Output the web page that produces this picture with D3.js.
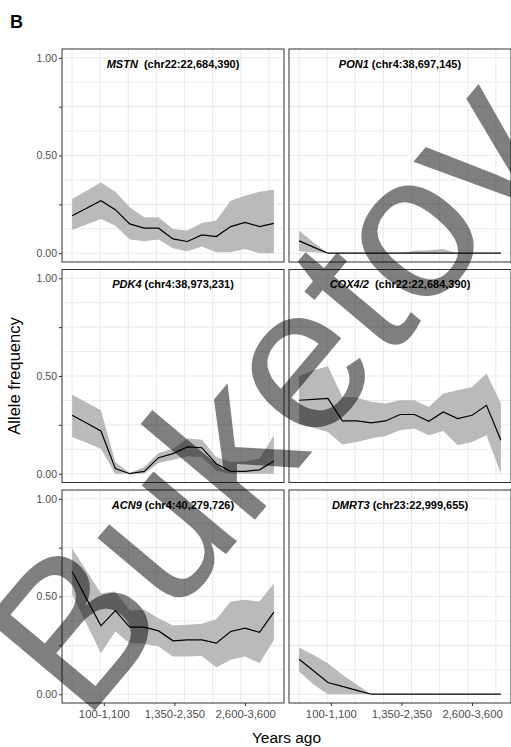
<!DOCTYPE html>
<html>
<head>
<meta charset="utf-8">
<script src="https://cdn.jsdelivr.net/npm/d3@7"></script>
<style>
  body { margin: 0; background: #fff; }
  svg { display: block; font-family: "Liberation Sans", Arial, sans-serif; }
  .panel-title { white-space: pre; }
</style>
</head>
<body>
<div id="chart"></div>
<script>
// Allele frequency over time windows, six loci

// time window index (1 = most recent)
const windows = [1, 2, 3, 4, 5, 6, 7, 8, 9, 10, 11, 12, 13, 14, 15];

const genes = ['MSTN', 'PON1', 'PDK4', 'COX4/2', 'ACN9', 'DMRT3'];
const loci = ['  (chr22:22,684,390)', ' (chr4:38,697,145)', ' (chr4:38,973,231)',
              '  (chr22:22,684,390)', ' (chr4:40,279,726)', ' (chr23:22,999,655)'];

const xTickPos = [3.2, 8.1, 13.0];
const xTickLabels = ['100-1,100', '1,350-2,350', '2,600-3,600'];
const xGridPos = [1, 2.95, 4.9, 6.85, 8.8, 10.75, 12.7, 14.65];
const yTicks = [0, 0.25, 0.5, 0.75, 1];
const yTickLabels = ['0.00', '', '0.50', '', '1.00'];
const yGridPos = [0, 0.125, 0.25, 0.375, 0.5, 0.625, 0.75, 0.875, 1];

// frequency, lower and upper bound per gene
const mstnFreq = [0.192, 0.23, 0.269, 0.223, 0.15, 0.128, 0.128, 0.073, 0.06, 0.094, 0.085, 0.136, 0.158, 0.136, 0.153];
const mstnLow  = [0.119, 0.147, 0.175, 0.141, 0.07, 0.061, 0.07, 0.026, 0.01, 0.034, 0.005, 0.005, 0.022, 0, 0];
const mstnHigh = [0.277, 0.32, 0.362, 0.315, 0.235, 0.184, 0.184, 0.124, 0.116, 0.155, 0.167, 0.269, 0.294, 0.315, 0.325];

const pon1Freq = [0.063, 0.031, 0, 0, 0, 0, 0, 0, 0, 0, 0, 0, 0, 0, 0];
const pon1Low  = [0.01, 0.005, 0, 0, 0, 0, 0, 0, 0, 0, 0, 0, 0, 0, 0];
const pon1High = [0.116, 0.055, 0, 0, 0, 0, 0, 0, 0.012, 0.015, 0.022, 0, 0, 0, 0];

const pdk4Freq = [0.299, 0.259, 0.219, 0.026, 0, 0.012, 0.082, 0.103, 0.137, 0.133, 0.051, 0.012, 0.012, 0.02, 0.065];
const pdk4Low  = [0.188, 0.158, 0.128, 0, 0, 0, 0.055, 0.072, 0.089, 0.085, 0.017, 0, 0, 0, 0];
const pdk4High = [0.405, 0.365, 0.325, 0.06, 0.003, 0.034, 0.106, 0.128, 0.18, 0.174, 0.085, 0.06, 0.063, 0.077, 0.197];

const cox4Freq = [0.376, 0.38, 0.385, 0.27, 0.27, 0.26, 0.27, 0.303, 0.303, 0.268, 0.316, 0.282, 0.299, 0.35, 0.171];
const cox4Low  = [0.256, 0.235, 0.214, 0.15, 0.162, 0.18, 0.193, 0.222, 0.231, 0.197, 0.219, 0.145, 0.162, 0.197, 0];
const cox4High = [0.5, 0.53, 0.55, 0.393, 0.39, 0.368, 0.359, 0.376, 0.376, 0.342, 0.41, 0.427, 0.444, 0.513, 0.359];

const acn9Freq = [0.628, 0.489, 0.35, 0.428, 0.343, 0.343, 0.324, 0.273, 0.278, 0.278, 0.261, 0.321, 0.338, 0.317, 0.42];
const acn9Low  = [0.51, 0.36, 0.21, 0.321, 0.261, 0.258, 0.244, 0.193, 0.193, 0.196, 0.137, 0.176, 0.193, 0.159, 0.278];
const acn9High = [0.747, 0.63, 0.517, 0.526, 0.428, 0.432, 0.389, 0.352, 0.355, 0.36, 0.384, 0.474, 0.483, 0.474, 0.568];

const dmrt3Freq = [0.179, 0.12, 0.06, 0.04, 0.02, 0, 0, 0, 0, 0, 0, 0, 0, 0, 0];
const dmrt3Low  = [0.116, 0.05, 0, 0, 0, 0, 0, 0, 0, 0, 0, 0, 0, 0, 0];
const dmrt3High = [0.239, 0.2, 0.159, 0.1, 0.05, 0, 0, 0, 0, 0, 0, 0, 0, 0, 0];

const seriesFreq = [mstnFreq, pon1Freq, pdk4Freq, cox4Freq, acn9Freq, dmrt3Freq];
const seriesLow = [mstnLow, pon1Low, pdk4Low, cox4Low, acn9Low, dmrt3Low];
const seriesHigh = [mstnHigh, pon1High, pdk4High, cox4High, acn9High, dmrt3High];

const width = 511, height = 747;
const colX = [62, 289];
const rowY = [49, 269.5, 490];
const pw = 222, ph = 213;

const svg = d3.select('#chart').append('svg')
    .attr('width', width)
    .attr('height', height);

const x = d3.scaleLinear().domain([0.3, 15.7]).range([0, pw]);
const y = d3.scaleLinear().domain([-0.045, 1.045]).range([ph, 0]);

const area = d3.area()
    .x(d => x(d.w))
    .y0(d => y(d.lo))
    .y1(d => y(d.hi));
const line = d3.line()
    .x(d => x(d.w))
    .y(d => y(d.f));

genes.forEach((gene, i) => {
    const col = i % 2, row = Math.floor(i / 2);
    const g = svg.append('g')
        .attr('transform', `translate(${colX[col]},${rowY[row]})`);

    g.append('rect')
        .attr('width', pw).attr('height', ph)
        .attr('fill', '#fff');

    // grid
    g.selectAll('line.hgrid').data(yGridPos).join('line')
        .attr('class', 'hgrid')
        .attr('x1', 0).attr('x2', pw)
        .attr('y1', d => y(d)).attr('y2', d => y(d))
        .attr('stroke', '#ebebeb').attr('stroke-width', 1.1);
    g.selectAll('line.vgrid').data(xGridPos).join('line')
        .attr('class', 'vgrid')
        .attr('y1', 0).attr('y2', ph)
        .attr('x1', d => x(d)).attr('x2', d => x(d))
        .attr('stroke', '#ebebeb').attr('stroke-width', 1.1);

    const pts = windows.map((w, k) => ({
        w: w, f: seriesFreq[i][k], lo: seriesLow[i][k], hi: seriesHigh[i][k]
    }));

    g.append('path').datum(pts)
        .attr('d', area)
        .attr('fill', '#bababa');
    g.append('path').datum(pts)
        .attr('d', line)
        .attr('fill', 'none')
        .attr('stroke', '#000')
        .attr('stroke-width', 1.2);

    // title inside panel
    const t = g.append('text')
        .attr('class', 'panel-title')
        .attr('x', pw / 2).attr('y', 18.5)
        .attr('text-anchor', 'middle')
        .attr('font-size', 11)
        .attr('font-weight', 'bold')
        .attr('fill', '#000');
    t.append('tspan').attr('font-style', 'italic').text(gene);
    t.append('tspan').text(loci[i]);

    g.append('rect')
        .attr('width', pw).attr('height', ph)
        .attr('fill', 'none')
        .attr('stroke', '#333')
        .attr('stroke-width', 1);

    // y axis on left column
    if (col === 0) {
        const ya = g.append('g')
            .call(d3.axisLeft(y).tickValues(yTicks)
                .tickFormat((d, k) => yTickLabels[k])
                .tickSize(3).tickPadding(2));
        ya.select('.domain').remove();
        ya.selectAll('.tick line').attr('stroke', '#333');
        ya.selectAll('.tick text')
            .attr('fill', '#4d4d4d')
            .attr('font-size', 10.5)
            .attr('font-family', '"Liberation Sans", Arial, sans-serif');
    }

    // x axis on bottom row
    if (row === 2) {
        const xa = g.append('g')
            .attr('transform', `translate(0,${ph})`)
            .call(d3.axisBottom(x).tickValues(xTickPos)
                .tickFormat((d, k) => xTickLabels[k])
                .tickSize(3).tickPadding(4));
        xa.select('.domain').remove();
        xa.selectAll('.tick line').attr('stroke', '#333');
        xa.selectAll('.tick text')
            .attr('fill', '#4d4d4d')
            .attr('font-size', 11.3)
            .attr('font-family', '"Liberation Sans", Arial, sans-serif');
    }
});

// axis titles
svg.append('text')
    .attr('x', (colX[0] + colX[1] + pw) / 2)
    .attr('y', 743)
    .attr('text-anchor', 'middle')
    .attr('font-size', 15.5)
    .attr('fill', '#000')
    .text('Years ago');

svg.append('text')
    .attr('transform', `translate(19.5,${(rowY[0] + rowY[2] + ph) / 2}) rotate(-90)`)
    .attr('text-anchor', 'middle')
    .attr('font-size', 16.5)
    .attr('fill', '#000')
    .text('Allele frequency');

// figure letter
svg.append('text')
    .attr('x', 10).attr('y', 28)
    .attr('font-size', 18)
    .attr('font-weight', 'bold')
    .text('B');

// watermark
svg.append('text')
    .attr('transform', 'translate(268,392) rotate(-50)')
    .attr('text-anchor', 'middle')
    .attr('dy', '0.35em')
    .attr('font-size', 206)
    .attr('fill', '#000')
    .attr('fill-opacity', 0.5)
    .text('Buketov');
</script>
</body>
</html>
